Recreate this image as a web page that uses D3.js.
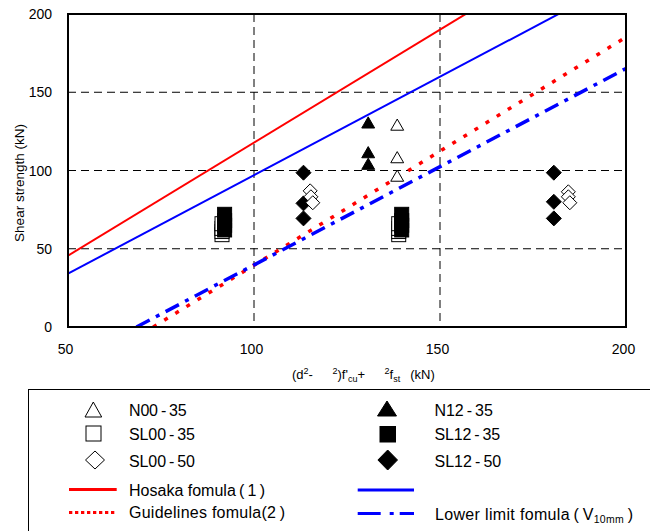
<!DOCTYPE html>
<html><head><meta charset="utf-8">
<script src="https://cdn.jsdelivr.net/npm/d3@7"></script>
<style>body{margin:0;background:#fff}svg{display:block;font-family:"Liberation Sans",Arial,sans-serif}</style>
</head><body><svg id="c" width="650" height="531"></svg>
<script>
// ---- data ----
const xTicks = [50, 100, 150, 200];
const yTicks = [0, 50, 100, 150, 200];
const xGrid = [100, 150];
const yGrid = [50, 100, 150];
const N00_35 = [[138.5,129.4],[138.5,108.6],[138.5,96.8]];
const N12_35 = [[130.7,130.8],[130.7,111.8],[130.7,104.4]];
const SL00_35 = [[91.4,59],[91.4,61],[91.4,63],[91.4,66],[138.9,59],[138.9,61],[138.9,63],[138.9,66]];
const SL12_35 = [[92.1,62],[92.1,65],[92.1,68],[92.1,72],[139.7,62],[139.7,65],[139.7,68],[139.7,72]];
const SL00_50 = [[115.1,87],[115.3,83.2],[115.8,79.4],[184.5,86.4],[184.5,83.2],[184.9,79.4]];
const SL12_50 = [[113.3,98.6],[113.3,79],[113.3,69.4],[180.6,98.6],[180.6,80],[180.6,69.4]];
const hosaka = [[50,45.6],[200,262.2]];
const guidelines = [[72.9,0],[200,185.2]];
const blueSolid = [[50,34.1],[200,222.8]];
const lowerLimit = [[68.4,0],[200,165.2]];

const svg = d3.select("#c");
const L = 68, R = 626, T = 14, B = 327;
const x = d3.scaleLinear().domain([50,200]).range([L,R]);
const y = d3.scaleLinear().domain([0,200]).range([B,T]);

svg.append("defs").append("clipPath").attr("id","clip")
  .append("rect").attr("x",L).attr("y",T).attr("width",R-L).attr("height",B-T);

// grid
const g = svg.append("g");
g.selectAll(".gx").data(xGrid).join("line")
  .attr("x1",d=>x(d)).attr("x2",d=>x(d)).attr("y1",T).attr("y2",B)
  .attr("stroke","#000").attr("stroke-width",1).attr("stroke-dasharray","8,5");
g.selectAll(".gy").data(yGrid).join("line")
  .attr("x1",L).attr("x2",R).attr("y1",d=>y(d)).attr("y2",d=>y(d))
  .attr("stroke","#000").attr("stroke-width",1).attr("stroke-dasharray","8,5");

// lines
const line = d3.line().x(d=>x(d[0])).y(d=>y(d[1]));
const lg = svg.append("g").attr("clip-path","url(#clip)");
lg.append("path").datum(hosaka).attr("d",line).attr("fill","none").attr("stroke","#ff0000").attr("stroke-width",2);
lg.append("path").datum(blueSolid).attr("d",line).attr("fill","none").attr("stroke","#0000ff").attr("stroke-width",2);
lg.append("path").datum(guidelines).attr("d",line).attr("fill","none").attr("stroke","#ff0000").attr("stroke-width",3.5).attr("stroke-dasharray","4,9");
lg.append("path").datum(lowerLimit).attr("d",line).attr("fill","none").attr("stroke","#0000ff").attr("stroke-width",3.5).attr("stroke-dasharray","15,7,4,7");

// markers
const tri = d3.symbol().type(d3.symbolTriangle).size(72);
function triangles(data, filled){
  svg.append("g").selectAll("path").data(data).join("path")
    .attr("d",tri).attr("transform",d=>`translate(${x(d[0])},${y(d[1])+2})`)
    .attr("fill",filled?"#000":"#fff").attr("stroke","#000").attr("stroke-width",1);
}
function squares(data, filled){
  svg.append("g").selectAll("rect").data(data).join("rect")
    .attr("x",d=>x(d[0])-7).attr("y",d=>y(d[1])-7).attr("width",14).attr("height",14)
    .attr("fill",filled?"#000":"#fff").attr("stroke","#000").attr("stroke-width",1);
}
function diamonds(data, filled){
  const s = filled?7.5:7;
  svg.append("g").selectAll("path").data(data).join("path")
    .attr("d",d=>{const cx=x(d[0]), cy=y(d[1]);return `M${cx},${cy-s}L${cx+s},${cy}L${cx},${cy+s}L${cx-s},${cy}Z`;})
    .attr("fill",filled?"#000":"#fff").attr("stroke","#000").attr("stroke-width",1);
}
squares(SL00_35,false);
squares(SL12_35,true);
triangles(N00_35,false);
triangles(N12_35,true);
diamonds(SL12_50,true);
diamonds(SL00_50,false);

// axes frame
svg.append("rect").attr("x",L).attr("y",T).attr("width",R-L).attr("height",B-T)
  .attr("fill","none").attr("stroke","#000").attr("stroke-width",2);

// tick labels
svg.append("g").selectAll("text").data(yTicks).join("text")
  .attr("x",52).attr("y",d=>y(d)).attr("dy","0.36em").attr("text-anchor","end")
  .attr("font-size",14).text(d=>d);
svg.append("g").selectAll("text").data(xTicks).join("text")
  .attr("x",d=>x(d)-2.5).attr("y",354).attr("text-anchor","middle")
  .attr("font-size",14).text(d=>d);

// axis titles
svg.append("text").attr("transform","translate(23.5,183) rotate(-90)")
  .attr("text-anchor","middle").attr("font-size",13.5).text("Shear strength (kN)");
const xt = svg.append("text").attr("x",292).attr("y",379).attr("font-size",13);
xt.append("tspan").text("(d");
xt.append("tspan").attr("font-size",9).attr("dy",-5).text("2");
xt.append("tspan").attr("dy",5).text("-\u2003\u2002");
xt.append("tspan").attr("font-size",9).attr("dy",-5).text("2");
xt.append("tspan").attr("dy",5).text(")f'");
xt.append("tspan").attr("font-size",9).attr("dy",3).text("cu");
xt.append("tspan").attr("dy",-3).text("+\u2003\u2002");
xt.append("tspan").attr("font-size",9).attr("dy",-5).text("2");
xt.append("tspan").attr("dy",5).text("f");
xt.append("tspan").attr("font-size",9).attr("dy",3).text("st");
xt.append("tspan").attr("dy",-3).text("\u2002 (kN)");

// legend
svg.append("rect").attr("x",28.5).attr("y",389.5).attr("width",700).attr("height",300)
  .attr("fill","none").attr("stroke","#000").attr("stroke-width",1);
const legTxt = [
  ["N00\u2009-\u200935",129,415.7,57.7],["SL00\u2009-\u200935",129,440,66],["SL00\u2009-\u200950",129,466.7,66],
  ["N12\u2009-\u200935",434.5,415.7,58.3],["SL12\u2009-\u200935",434.5,440,65.7],["SL12\u2009-\u200950",434.5,466.7,66.7],
  ["Hosaka fomula\u2009(\u20091\u2009)",129,496,136],["Guidelines fomula(2\u2009)",129,518,156]
];
svg.append("g").selectAll("text").data(legTxt).join("text")
  .attr("x",d=>d[1]).attr("y",d=>d[2]).attr("font-size",16)
  .attr("textLength",d=>d[3]).attr("lengthAdjust","spacing").text(d=>d[0]);
const ll = svg.append("text").attr("x",435).attr("y",520).attr("font-size",16)
  .attr("textLength",198).attr("lengthAdjust","spacing");
ll.append("tspan").text("Lower limit fomula\u2009(\u2009V");
ll.append("tspan").attr("font-size",10.5).attr("dy",3).text("10mm");
ll.append("tspan").attr("dy",-3).text("\u2009)");

// legend symbols
svg.append("path").attr("d","M93.3,402L101.7,417L85,417Z").attr("fill","#fff").attr("stroke","#000");
svg.append("path").attr("d","M387,401L396.5,416L377.5,416Z").attr("fill","#000").attr("stroke","#000");
svg.append("rect").attr("x",86).attr("y",426).attr("width",15).attr("height",15).attr("fill","#fff").attr("stroke","#000");
svg.append("rect").attr("x",379.5).attr("y",426).attr("width",16.5).attr("height",16.5).attr("fill","#000");
svg.append("path").attr("d","M95,451L104.5,460L95,469L85.5,460Z").attr("fill","#fff").attr("stroke","#000");
svg.append("path").attr("d","M387.7,450L397.5,460L387.7,470L377.9,460Z").attr("fill","#000").attr("stroke","#000");
svg.append("line").attr("x1",69).attr("x2",116.7).attr("y1",489.5).attr("y2",489.5).attr("stroke","#ff0000").attr("stroke-width",3);
svg.append("line").attr("x1",69).attr("x2",116.7).attr("y1",512.5).attr("y2",512.5).attr("stroke","#ff0000").attr("stroke-width",3).attr("stroke-dasharray","3.3,2.7");
svg.append("line").attr("x1",357.7).attr("x2",414).attr("y1",490).attr("y2",490).attr("stroke","#0000ff").attr("stroke-width",3);
svg.append("line").attr("x1",357.7).attr("x2",414).attr("y1",513.5).attr("y2",513.5).attr("stroke","#0000ff").attr("stroke-width",3).attr("stroke-dasharray","23,9,4,6");
</script></body></html>
